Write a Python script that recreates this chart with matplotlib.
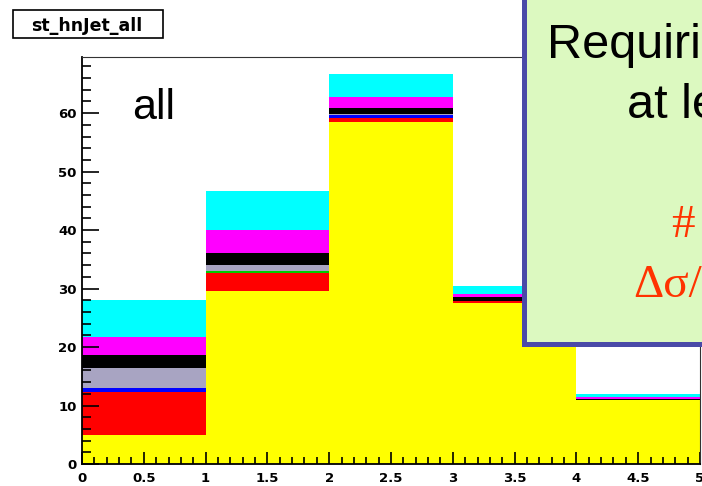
import numpy as np
import matplotlib.pyplot as plt
from matplotlib.patches import Rectangle
from matplotlib.ticker import MultipleLocator

# number of jets, one entry per bin (bin edges 0..5)
bin_edges = [0, 1, 2, 3, 4]
yellow = [4.9, 29.5, 58.4, 27.6, 10.9]
red = [7.4, 3.1, 0.8, 0.3, 0.0]
green = [0.0, 0.4, 0.0, 0.0, 0.0]
blue = [0.7, 0.0, 0.4, 0.0, 0.0]
gray = [3.4, 1.1, 0.2, 0.0, 0.0]
black = [2.2, 2.0, 1.0, 0.7, 0.3]
magenta = [3.1, 4.0, 2.0, 0.5, 0.3]
cyan = [6.3, 6.5, 3.9, 1.3, 0.5]

layers = [yellow, red, green, blue, gray, black, magenta, cyan]
colors = ["#ffff00", "#ff0000", "#00cc00", "#0000ff", "#a8a4c2",
          "#000000", "#ff00ff", "#00ffff"]

W, H = 702, 486
fig = plt.figure(figsize=(W / 100, H / 100), dpi=100)

def px(x, y):
    return x / W, 1 - y / H

ax = fig.add_axes([82 / W, (H - 464) / H, (700 - 82) / W, (464 - 57) / H])

bottom = np.zeros(len(bin_edges))
for vals, c in zip(layers, colors):
    ax.bar(bin_edges, vals, width=1.0, bottom=bottom, align="edge",
           color=c, linewidth=0)
    bottom += np.array(vals)

ax.set_xlim(0, 5)
ax.set_ylim(0, 69.6)

ax.xaxis.set_minor_locator(MultipleLocator(0.1))
ax.yaxis.set_major_locator(MultipleLocator(10))
ax.yaxis.set_minor_locator(MultipleLocator(2))
ax.set_xticks(np.arange(0, 5.01, 0.5))
ax.set_xticklabels(["0", "0.5", "1", "1.5", "2", "2.5", "3", "3.5", "4", "4.5", "5"])

ax.tick_params(axis="both", which="both", direction="in", top=False, right=False,
               width=1.2, colors="black")
ax.tick_params(axis="x", which="major", length=9, pad=5.5)
ax.tick_params(axis="x", which="minor", length=5)
ax.tick_params(axis="y", which="major", length=12.5, pad=4)
ax.tick_params(axis="y", which="minor", length=6.5)
for lab in ax.get_xticklabels() + ax.get_yticklabels():
    lab.set_fontweight("bold")
    lab.set_fontsize(9.5)
    lab.set_family("DejaVu Sans")

ax.spines["left"].set_linewidth(1.3)
ax.spines["bottom"].set_linewidth(1.3)
ax.spines["top"].set_linewidth(0.8)
ax.spines["right"].set_linewidth(0.8)
ax.spines["top"].set_color("#333333")
ax.spines["right"].set_color("#333333")

# histogram name box
fig.add_artist(Rectangle(px(13, 38), 150 / W, 28 / H, transform=fig.transFigure,
                         facecolor="white", edgecolor="black", linewidth=1.2))
fig.text(*px(87, 31), "st_hnJet_all", ha="center", va="baseline",
         fontsize=12.5, fontweight="bold", family="DejaVu Sans")

fig.text(*px(132, 119), "all", ha="left", va="baseline",
         fontsize=31, family="Liberation Sans")

# annotation box
box = Rectangle(px(523.5, 343.5), 300 / W, 400 / H, transform=fig.transFigure,
                facecolor="#dcf9c0", edgecolor="#4a4aa8", linewidth=3.6,
                zorder=5)
fig.add_artist(box)
fig.text(*px(547, 58), "Requiri", ha="left", va="baseline",
         fontsize=35, family="Liberation Sans", zorder=6)
fig.text(*px(627, 118), "at le", ha="left", va="baseline",
         fontsize=35, family="Liberation Sans", zorder=6)
fig.text(*px(671, 237), "#", ha="left", va="baseline",
         fontsize=34, family="Liberation Serif", color="#ff3300", zorder=6)
fig.text(*px(633, 297), "Δσ/", ha="left", va="baseline",
         fontsize=34, family="Liberation Serif", color="#ff3300", zorder=6)

fig.savefig("out.png", dpi=100)
